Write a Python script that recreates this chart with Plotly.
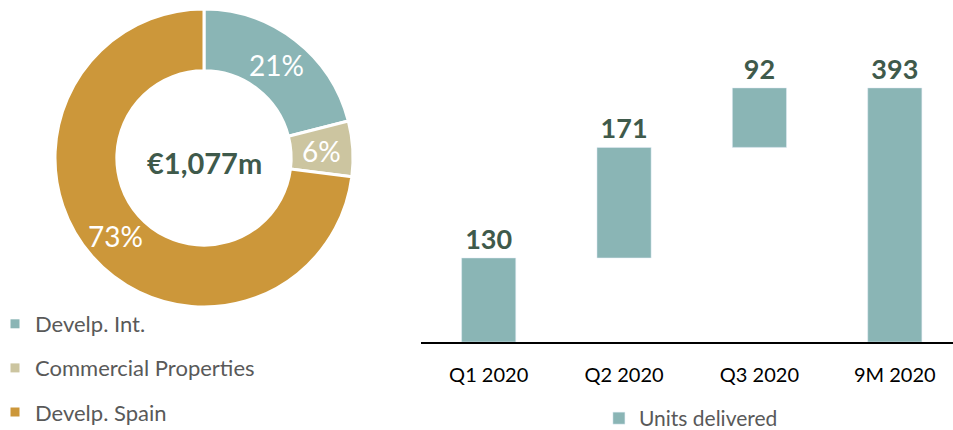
import math
import plotly.graph_objects as go

# Donut data
segments = ["Develp. Int.", "Commercial Properties", "Develp. Spain"]
shares = [21, 6, 73]
share_labels = ["21%", "6%", "73%"]
seg_colors = ["#8AB5B5", "#CCC5A0", "#CC973A"]
center_label = "€1,077m"

# Waterfall data
periods = ["Q1 2020", "Q2 2020", "Q3 2020", "9M 2020"]
deltas = [130, 171, 92]
bar_series = "Units delivered"
bar_color = "#8AB5B5"

FONT = "Lato, Carlito, Calibri, sans-serif"
DARK = "#3F5A4B"
W, H = 953, 430

# donut geometry (pixels)
CX, CY, R_OUT, HOLE = 204, 158, 149, 0.585

# bases/heights via cumulative sums
bases = []
acc = 0
for d in deltas:
    bases.append(acc)
    acc += d
heights = deltas + [acc]
bases = bases + [0]
labels = [str(v) for v in heights]

fig = go.Figure()

fig.add_trace(go.Pie(
    labels=segments, values=shares, textinfo="none",
    hole=HOLE, sort=False, direction="clockwise", rotation=0,
    marker=dict(colors=seg_colors, line=dict(color="white", width=3)),
    domain=dict(x=[(CX - R_OUT) / W, (CX + R_OUT) / W],
                y=[1 - (CY + R_OUT) / H, 1 - (CY - R_OUT) / H]),
    showlegend=False,
))

# slice labels at the angular middle of each slice
total = sum(shares)
r_mid = R_OUT * (1 + HOLE) / 2
cum = 0
for v, t in zip(shares, share_labels):
    ang = 2 * math.pi * (cum + v / 2) / total
    cum += v
    px = CX + r_mid * math.sin(ang)
    py = CY - r_mid * math.cos(ang)
    fig.add_annotation(x=px / W, y=1 - py / H, xref="paper", yref="paper",
                       text=t, showarrow=False, xanchor="center", yanchor="middle",
                       font=dict(color="white", size=28, family=FONT))

# legend entries for donut
for name, col in zip(segments, seg_colors):
    fig.add_trace(go.Scatter(
        x=[None], y=[None], mode="markers", name=name,
        marker=dict(symbol="square", size=9, color=col),
        legend="legend", legendgroup=name, xaxis="x2", yaxis="y2",
    ))

fig.add_trace(go.Bar(
    x=periods, y=heights, base=bases, name=bar_series,
    marker=dict(color=bar_color), width=0.4,
    text=labels, textposition="outside", cliponaxis=False,
    textfont=dict(size=27, color=DARK, family=FONT, weight="bold"),
    xaxis="x", yaxis="y", legend="legend2",
))

fig.add_annotation(
    x=CX / W, y=1 - 163 / H, xref="paper", yref="paper",
    xanchor="center", yanchor="middle",
    text="<b>" + center_label + "</b>", showarrow=False,
    font=dict(size=29, color=DARK, family=FONT),
)

fig.update_layout(
    width=W, height=H,
    margin=dict(l=0, r=0, t=0, b=0, autoexpand=False),
    paper_bgcolor="white", plot_bgcolor="white",
    font=dict(family=FONT),
    xaxis=dict(type="category", domain=[421 / W, 1.0], range=[-0.5, 3.43],
               showline=True, linecolor="black", linewidth=2,
               ticks="", ticklabelstandoff=14, automargin=False,
               tickfont=dict(size=20, color="black", family=FONT),
               showgrid=False, zeroline=False, fixedrange=True),
    yaxis=dict(domain=[1 - 342 / H, 1 - 20 / H], range=[0, 498],
               visible=False, showgrid=False, zeroline=False),
    xaxis2=dict(domain=[0, 0.01], visible=False),
    yaxis2=dict(domain=[0, 0.01], visible=False),
    legend=dict(x=-5 / W, y=-3 / H, xanchor="left", yanchor="bottom",
                orientation="v", tracegroupgap=12.5,
                font=dict(size=22, color="#595959", family=FONT),
                bgcolor="rgba(0,0,0,0)"),
    legend2=dict(x=0.725, y=-9 / H, xanchor="center", yanchor="bottom",
                 orientation="h",
                 font=dict(size=21, color="#595959", family=FONT),
                 bgcolor="rgba(0,0,0,0)"),
    bargap=0.6,
)

fig.write_html("out.html",
               config={"displayModeBar": False},
               post_script="document.body.style.margin='0';document.body.style.overflow='hidden';")
